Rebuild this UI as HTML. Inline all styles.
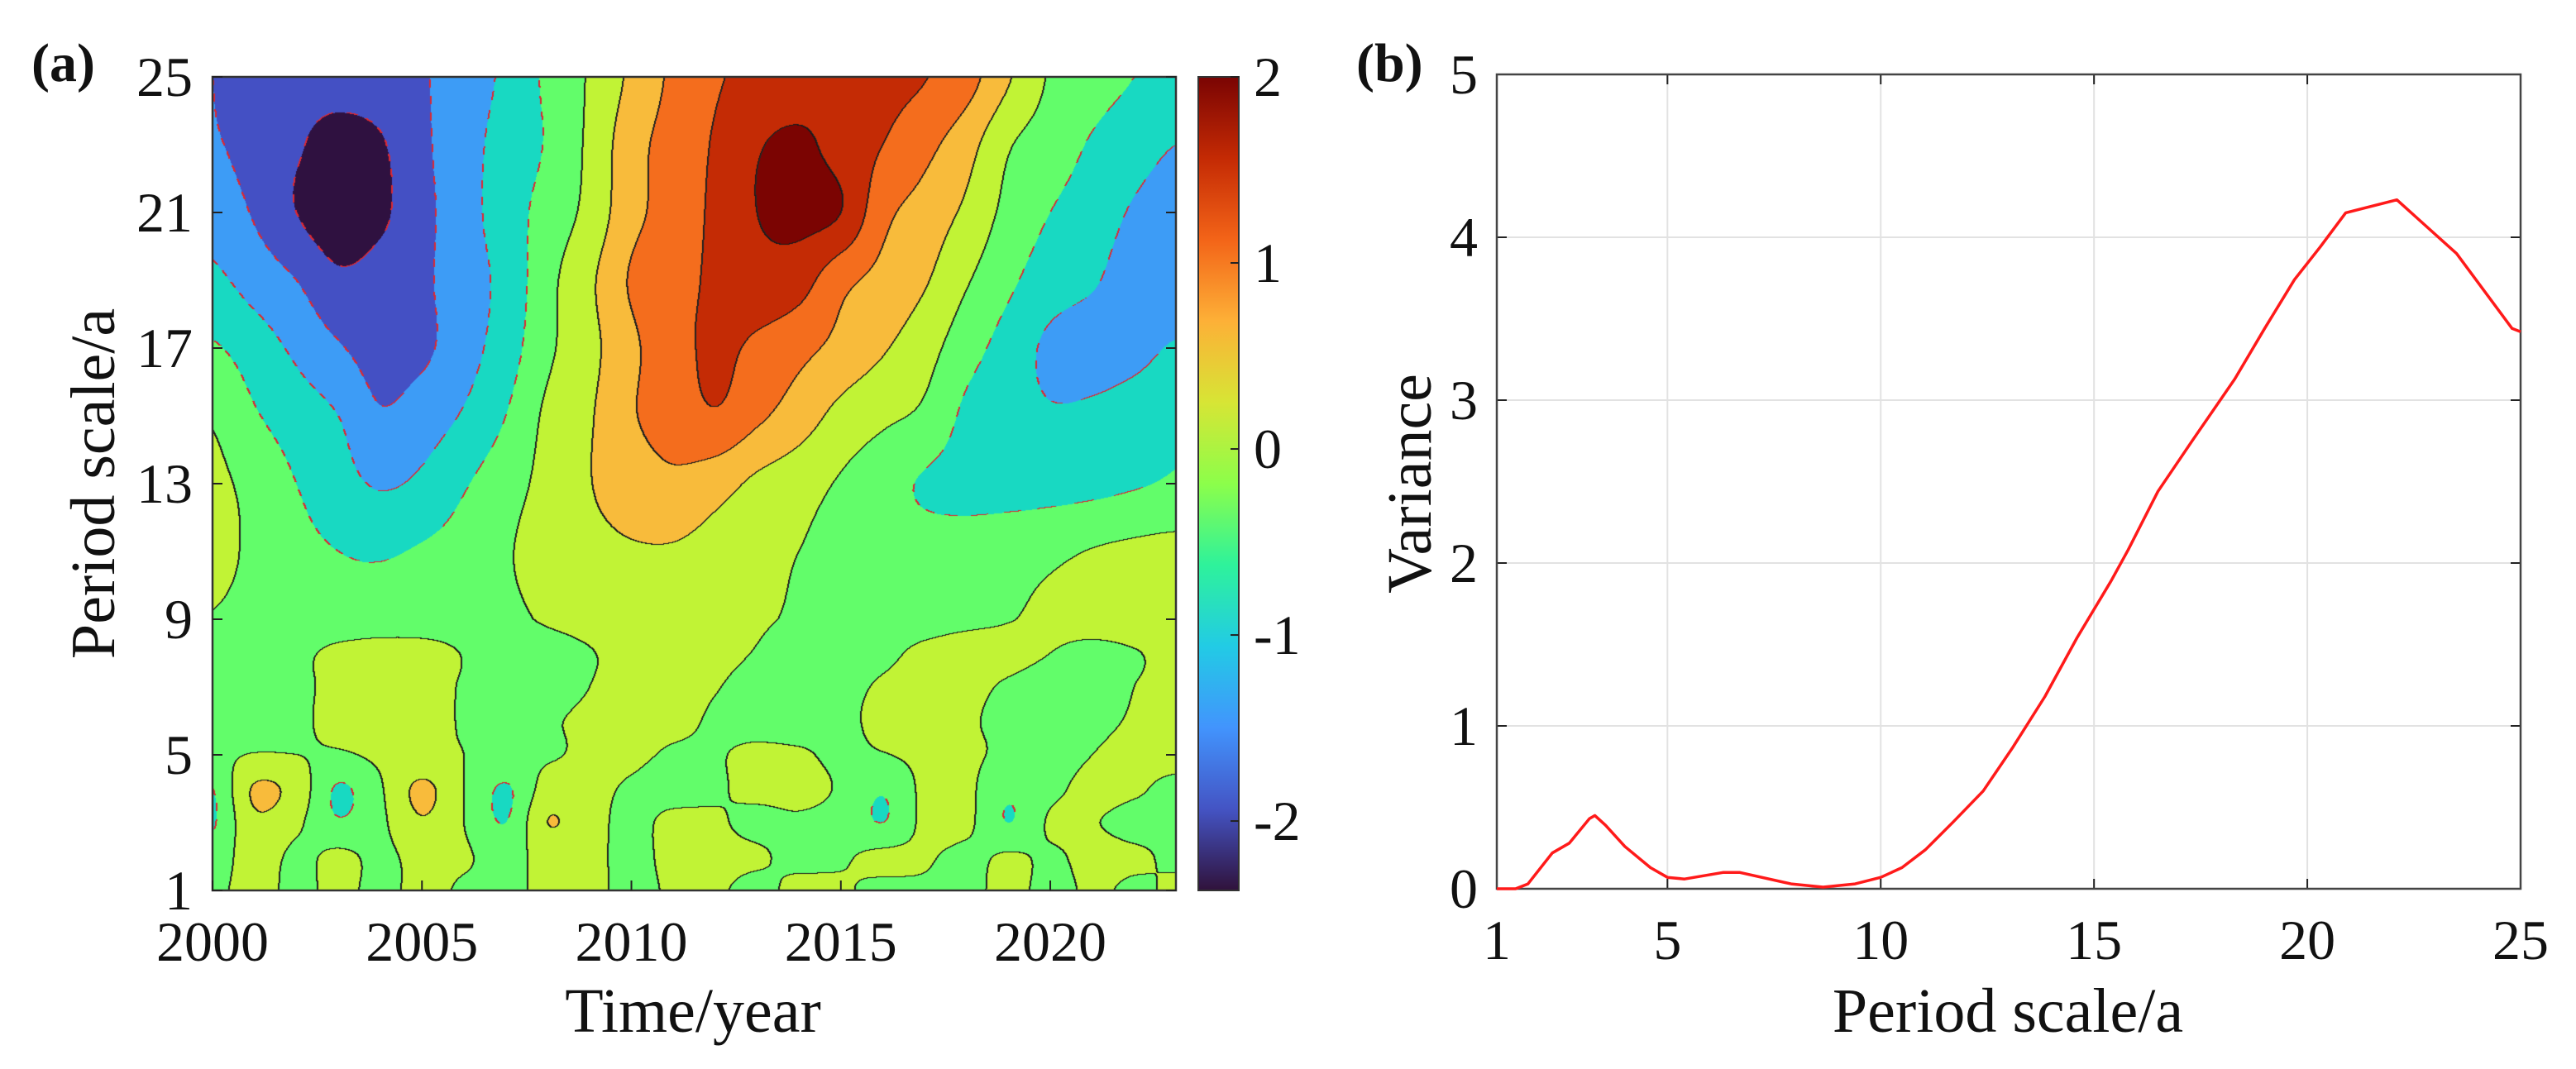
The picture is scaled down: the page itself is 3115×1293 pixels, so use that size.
<!DOCTYPE html>
<html><head><meta charset="utf-8">
<style>
html,body{margin:0;padding:0;background:#fff;}
#root{position:relative;width:3115px;height:1293px;overflow:hidden;background:#fff;font-family:"Liberation Serif","Times New Roman",serif;}
#cf{position:absolute;left:257px;top:93px;}
svg{position:absolute;left:0;top:0;font-family:"Liberation Serif","Times New Roman",serif;}
svg text{font-family:"Liberation Serif","Times New Roman",serif;}
</style></head>
<body>
<div id="root">
<canvas id="cf" width="1165" height="984"></canvas>
<svg id="sv" width="3115" height="1293" font-family="Liberation Serif, Times New Roman, serif">
  <defs>
    <linearGradient id="turbo" x1="0" y1="1" x2="0" y2="0">
      <stop offset="0" stop-color="#30123b"/>
      <stop offset="0.1" stop-color="#4454c4"/>
      <stop offset="0.2" stop-color="#4294fd"/>
      <stop offset="0.3" stop-color="#22cbe5"/>
      <stop offset="0.4" stop-color="#2ef29b"/>
      <stop offset="0.5" stop-color="#8cfe4a"/>
      <stop offset="0.6" stop-color="#d7e535"/>
      <stop offset="0.7" stop-color="#fdb037"/>
      <stop offset="0.8" stop-color="#f36418"/>
      <stop offset="0.9" stop-color="#c42a04"/>
      <stop offset="1" stop-color="#7a0403"/>
    </linearGradient>
  </defs>
  <g id="pa"></g>
  <g id="pb"></g>
</svg>
</div>
<script>
// ===== Panel (a) data: wavelet real-part coefficients, rows by period, columns years 2000..2023 =====
const years = [2000,2001,2002,2003,2004,2005,2006,2007,2008,2009,2010,2011,2012,2013,2014,2015,2016,2017,2018,2019,2020,2021,2022,2023];
const periods = [1,2,3,4,5,6,7,8,9,11,13,15,17,19,21,23,25];
const p1  = [-0.1,0.15,-0.1,0.1,-0.1,0.1,-0.05,-0.1,0.1,0.1,-0.1,0.05,0.05,-0.1,0.1,0.05,-0.1,-0.05,-0.1,0.1,-0.1,0.05,-0.05,0.05];
const p2  = [-0.3,0.25,-0.1,0.1,-0.1,0.15,0.05,-0.15,0.15,0.1,-0.1,0.1,0.1,0.05,-0.1,-0.05,0.1,0.05,-0.1,0.05,-0.05,0.1,0.05,-0.05];
const p3  = [-0.55,0.4,0.1,-0.45,-0.1,0.45,0.0,-0.5,0.5,0.15,-0.1,0.1,0.05,-0.1,-0.05,-0.15,-0.5,0.1,0.1,-0.5,0.05,0.02,-0.1,-0.05];
const p4  = [-0.5,0.55,0.3,-0.55,-0.05,0.6,0.0,-0.55,0.2,0.1,-0.05,-0.15,-0.05,0.1,0.1,-0.05,-0.45,0.1,0.1,-0.4,-0.1,0.1,0.05,-0.1];
const p5  = [-0.1,0.02,0.0,-0.05,0.08,0.12,0.0,-0.1,-0.05,0.08,0.08,-0.05,-0.03,0.08,0.05,-0.08,-0.02,0.1,0.08,-0.1,-0.15,0.0,0.1,0.15];
const p6  = [-0.1,-0.2,-0.08,0.12,0.2,0.12,-0.03,-0.15,-0.05,0.08,0.15,0.1,-0.05,-0.15,-0.2,-0.08,0.08,0.15,0.05,-0.1,-0.15,-0.08,0.03,0.1];
const p7  = [-0.1,-0.2,-0.1,0.12,0.2,0.12,-0.03,-0.2,-0.15,0.0,0.15,0.15,0.02,-0.12,-0.2,-0.12,0.05,0.15,0.1,-0.05,-0.15,-0.12,0.0,0.08];
const p8  = [-0.1,-0.2,-0.1,0.1,0.2,0.15,-0.02,-0.2,-0.15,-0.02,0.12,0.2,0.1,-0.02,-0.15,-0.2,-0.1,0.1,0.2,0.12,0.0,-0.1,-0.02,0.1];
const p9  = [-0.02,-0.15,-0.25,-0.3,-0.3,-0.25,-0.2,-0.1,0.05,0.15,0.22,0.22,0.15,0.05,-0.05,-0.15,-0.2,-0.2,-0.12,-0.02,0.08,0.15,0.2,0.22];
const p11 = [0.15,-0.1,-0.35,-0.5,-0.55,-0.45,-0.3,-0.05,0.2,0.35,0.45,0.45,0.3,0.15,0.0,-0.15,-0.25,-0.3,-0.3,-0.2,-0.1,0.02,0.1,0.15];
const p13 = [0.1,-0.15,-0.5,-0.8,-1.05,-0.9,-0.55,-0.2,0.15,0.48,0.75,0.9,0.7,0.4,0.2,-0.05,-0.3,-0.55,-0.65,-0.7,-0.7,-0.65,-0.55,-0.45];
const p15 = [-0.05,-0.45,-0.75,-1.0,-1.45,-1.25,-0.95,-0.5,0.1,0.45,0.95,1.2,1.45,1.1,0.75,0.35,0.1,-0.1,-0.6,-0.8,-0.95,-0.9,-0.75,-0.55];
const p17 = [-0.45,-0.75,-1.1,-1.45,-1.7,-1.6,-1.2,-0.75,-0.1,0.35,0.9,1.3,1.6,1.4,1.15,0.85,0.55,0.2,-0.3,-0.7,-1.1,-1.2,-1.15,-0.95];
const p19 = [-0.9,-1.2,-1.5,-1.9,-1.8,-1.6,-1.2,-0.85,-0.15,0.4,1.05,1.3,1.6,1.8,1.7,1.15,0.85,0.55,0.05,-0.4,-0.75,-0.95,-1.2,-1.3];
const p21 = [-1.2,-1.55,-2.0,-2.3,-2.1,-1.65,-1.2,-0.75,-0.3,0.15,0.85,1.2,1.6,2.0,2.15,2.0,1.15,0.8,0.4,-0.15,-0.5,-0.75,-1.05,-1.2];
const p23 = [-1.45,-1.7,-1.95,-2.15,-2.05,-1.6,-1.2,-0.8,-0.45,0.1,0.8,1.2,1.55,1.95,2.1,1.8,1.5,1.15,0.7,0.05,-0.25,-0.55,-0.8,-1.0];
const p25 = [-1.5,-1.75,-1.85,-1.85,-1.75,-1.55,-1.25,-0.9,-0.4,0.05,0.6,1.1,1.45,1.6,1.7,1.8,1.65,1.52,1.2,0.55,-0.05,-0.3,-0.5,-0.65];
const gridRows = [p1,p2,p3,p4,p5,p6,p7,p8,p9,p11,p13,p15,p17,p19,p21,p23,p25];
const levels = [-2,-1.5,-1,-0.5,0,0.5,1,1.5,2];
const yTicksA = [1,5,9,13,17,21,25];
const xTicksA = [2000,2005,2010,2015,2020];
const cbTicks = [2,1,0,-1,-2];

// ===== Panel (b) data: variance vs period =====
const varPeriod = [1,1.44,1.73,2.3,2.7,3.17,3.3,3.55,4.0,4.6,5.0,5.4,6.3,6.7,7.9,8.65,9.4,10,10.5,11.05,11.7,12.4,13.1,13.85,14.6,15.4,15.8,16.5,17.3,18.3,19.0,19.7,20.3,20.9,22.1,23.5,24.8,25];
const varValue  = [0,0,0.03,0.22,0.28,0.43,0.45,0.39,0.26,0.13,0.07,0.06,0.1,0.1,0.03,0.01,0.03,0.07,0.13,0.24,0.41,0.6,0.87,1.18,1.54,1.89,2.08,2.44,2.75,3.13,3.44,3.74,3.94,4.15,4.23,3.9,3.44,3.42];
const xTicksB = [1,5,10,15,20,25];
const yTicksB = [0,1,2,3,4,5];

// ---------- geometry ----------
const A = {l:257, r:1422, t:93, b:1077};
const xA = v => A.l + (v-2000)/23*(A.r-A.l);
const yA = v => A.b - (v-1)/24*(A.b-A.t);
const CB = {l:1449, r:1498, t:93, b:1077, vmax:2, vmin:-2.373};
const yCB = v => CB.t + (CB.vmax-v)/(CB.vmax-CB.vmin)*(CB.b-CB.t);
const B = {l:1810, r:3048, t:90, b:1075};
const xB = v => B.l + (v-1)/24*(B.r-B.l);
const yB = v => B.b - v/5*(B.b-B.t);
const FONT = 'Liberation Serif, Times New Roman, serif';

const NS = "http://www.w3.org/2000/svg";
function mk(tag, attrs, parent){ const e=document.createElementNS(NS,tag); for(const k in attrs) e.setAttribute(k,attrs[k]); if(tag==='text') e.setAttribute('font-family',FONT); parent.appendChild(e); return e; }

// ---------- contour fill ----------
const bandColors = ["#2f1140","#4450c4","#3d9cf6","#18d9c2","#62fd6a","#c1f335","#f8bb3b","#f46d1d","#c42b05","#7b0402"];
function hex(c){return [parseInt(c.substr(1,2),16),parseInt(c.substr(3,2),16),parseInt(c.substr(5,2),16)];}
const bandRGB = bandColors.map(hex);
function cr(p0,p1,p2,p3,t){return 0.5*((2*p1)+(-p0+p2)*t+(2*p0-5*p1+4*p2-p3)*t*t+(-p0+3*p1-3*p2+p3)*t*t*t);}
function periodIdx(p){
  for(let i=0;i<periods.length-1;i++){ if(p<=periods[i+1]) return i+(p-periods[i])/(periods[i+1]-periods[i]); }
  return periods.length-1;
}
function g(r,c){ r=Math.max(0,Math.min(gridRows.length-1,r)); c=Math.max(0,Math.min(years.length-1,c)); return gridRows[r][c]; }
function field(fx,fy){
  const c=Math.floor(fx), r=Math.floor(fy), tx=fx-c, ty=fy-r;
  const rows=[];
  for(let j=-1;j<=2;j++){ rows.push(cr(g(r+j,c-1),g(r+j,c),g(r+j,c+1),g(r+j,c+2),tx)); }
  return cr(rows[0],rows[1],rows[2],rows[3],ty);
}
(function(){
  const cv=document.getElementById('cf'); const ctx=cv.getContext('2d');
  const W=cv.width, H=cv.height;
  const img=ctx.createImageData(W,H); const d=img.data;
  const band=new Int8Array(W*H);
  const colIdx=new Float32Array(W);
  for(let x=0;x<W;x++){ const yr=2000+(x+0.5)/W*23; colIdx[x]=Math.min(years.length-1.0001,yr-2000); }
  for(let y=0;y<H;y++){
    const p=25-(y+0.5)/H*24; const fy=Math.min(periods.length-1.0001,periodIdx(p));
    for(let x=0;x<W;x++){
      const v=field(colIdx[x],fy);
      let b=0; while(b<levels.length && v>=levels[b]) b++;
      band[y*W+x]=b;
    }
  }
  for(let i=0;i<W*H;i++){ const c=bandRGB[band[i]]; d[i*4]=c[0]; d[i*4+1]=c[1]; d[i*4+2]=c[2]; d[i*4+3]=255; }
  function setPix(x,y,c){ if(x<0||y<0||x>=W||y>=H) return; const i=(y*W+x)*4; d[i]=c[0]; d[i+1]=c[1]; d[i+2]=c[2]; }
  for(let y=0;y<H;y++){
    for(let x=0;x<W;x++){
      const b=band[y*W+x];
      let nb=-1;
      if(x+1<W && band[y*W+x+1]!==b) nb=band[y*W+x+1];
      else if(y+1<H && band[(y+1)*W+x]!==b) nb=band[(y+1)*W+x];
      if(nb<0) continue;
      const lvl=levels[Math.min(b,nb)];
      if(lvl<0){
        if(Math.floor((x*0.6+y)/10)%2===1) continue;
        setPix(x,y,[220,40,50]); setPix(x+1,y,[220,40,50]);
      } else {
        setPix(x,y,[25,25,25]); setPix(x+1,y,[40,40,40]);
      }
    }
  }
  ctx.putImageData(img,0,0);
})();

// ---------- panel (a) axes ----------
(function(){
  const pa=document.getElementById('pa');
  const frame=mk('rect',{x:A.l,y:A.t,width:A.r-A.l,height:A.b-A.t,fill:'none',stroke:'#333','stroke-width':2.5},pa);
   
  yTicksA.forEach(v=>{
    const y=yA(v);
    const t1=mk('line',{x1:A.l,y1:y,x2:A.l+12,y2:y,stroke:'#222','stroke-width':2},pa);
     
    const t2=mk('line',{x1:A.r,y1:y,x2:A.r-12,y2:y,stroke:'#222','stroke-width':2},pa);
     
    const tx=mk('text',{x:A.l-24,y:y+23,'text-anchor':'end','font-size':68,fill:'#111'},pa);
    tx.textContent=v;
     
  });
  xTicksA.forEach(v=>{
    const x=xA(v);
    const t1=mk('line',{x1:x,y1:A.b,x2:x,y2:A.b-12,stroke:'#222','stroke-width':2},pa);
     
    const tx=mk('text',{x:x,y:1162,'text-anchor':'middle','font-size':68,fill:'#111'},pa);
    tx.textContent=v;
     
  });
  const xt=mk('text',{x:838,y:1248,'text-anchor':'middle','font-size':76,fill:'#111'},pa);
  xt.textContent='Time/year';  
  const yt=mk('text',{x:0,y:0,'text-anchor':'middle','font-size':76,fill:'#111',transform:'translate(138,585) rotate(-90)'},pa);
  yt.textContent='Period scale/a';  
  const lab=mk('text',{x:38,y:98,'font-size':66,'font-weight':'bold',fill:'#111'},pa);
  lab.textContent='(a)';  
  const cb=mk('rect',{x:CB.l,y:CB.t,width:CB.r-CB.l,height:CB.b-CB.t,fill:'url(#turbo)',stroke:'#333','stroke-width':2},pa);
   
  cbTicks.forEach(v=>{
    const y=yCB(v);
    const t=mk('line',{x1:CB.r,y1:y,x2:CB.r-10,y2:y,stroke:'#222','stroke-width':2},pa);
     
    const tx=mk('text',{x:CB.r+18,y:y+23,'font-size':68,fill:'#111'},pa);
    tx.textContent=v;
     
  });
})();

// ---------- panel (b) ----------
(function(){
  const pb=document.getElementById('pb');
  xTicksB.forEach(v=>{
    const x=xB(v);
    if(v>1&&v<25){ const gl=mk('line',{x1:x,y1:B.t,x2:x,y2:B.b,stroke:'#e2e2e2','stroke-width':2},pb);
        }
    const t=mk('line',{x1:x,y1:B.b,x2:x,y2:B.b-12,stroke:'#222','stroke-width':2},pb);
     
    const t2=mk('line',{x1:x,y1:B.t,x2:x,y2:B.t+12,stroke:'#222','stroke-width':2},pb);
     
    const tx=mk('text',{x:x,y:1160,'text-anchor':'middle','font-size':68,fill:'#111'},pb);
    tx.textContent=v;
     
  });
  yTicksB.forEach(v=>{
    const y=yB(v);
    if(v>0&&v<5){ const gl=mk('line',{x1:B.l,y1:y,x2:B.r,y2:y,stroke:'#e2e2e2','stroke-width':2},pb);
        }
    const t=mk('line',{x1:B.l,y1:y,x2:B.l+12,y2:y,stroke:'#222','stroke-width':2},pb);
     
    const t2=mk('line',{x1:B.r,y1:y,x2:B.r-12,y2:y,stroke:'#222','stroke-width':2},pb);
     
    const tx=mk('text',{x:1787,y:y+23,'text-anchor':'end','font-size':68,fill:'#111'},pb);
    tx.textContent=v;
     
  });
  const frame=mk('rect',{x:B.l,y:B.t,width:B.r-B.l,height:B.b-B.t,fill:'none',stroke:'#444','stroke-width':2.5},pb);
   
  const pts=varPeriod.map((p,i)=>xB(p).toFixed(1)+','+yB(varValue[i]).toFixed(1)).join(' ');
  const line=mk('polyline',{points:pts,fill:'none',stroke:'#ff1a1a','stroke-width':3.5,'stroke-linejoin':'round'},pb);
   
  const xt=mk('text',{x:2428,y:1248,'text-anchor':'middle','font-size':76,fill:'#111'},pb);
  xt.textContent='Period scale/a';  
  const yt=mk('text',{x:0,y:0,'text-anchor':'middle','font-size':76,fill:'#111',transform:'translate(1730,585) rotate(-90)'},pb);
  yt.textContent='Variance';  
  const lab=mk('text',{x:1640,y:98,'font-size':66,'font-weight':'bold',fill:'#111'},pb);
  lab.textContent='(b)';  
})();
</script>
</body></html>
